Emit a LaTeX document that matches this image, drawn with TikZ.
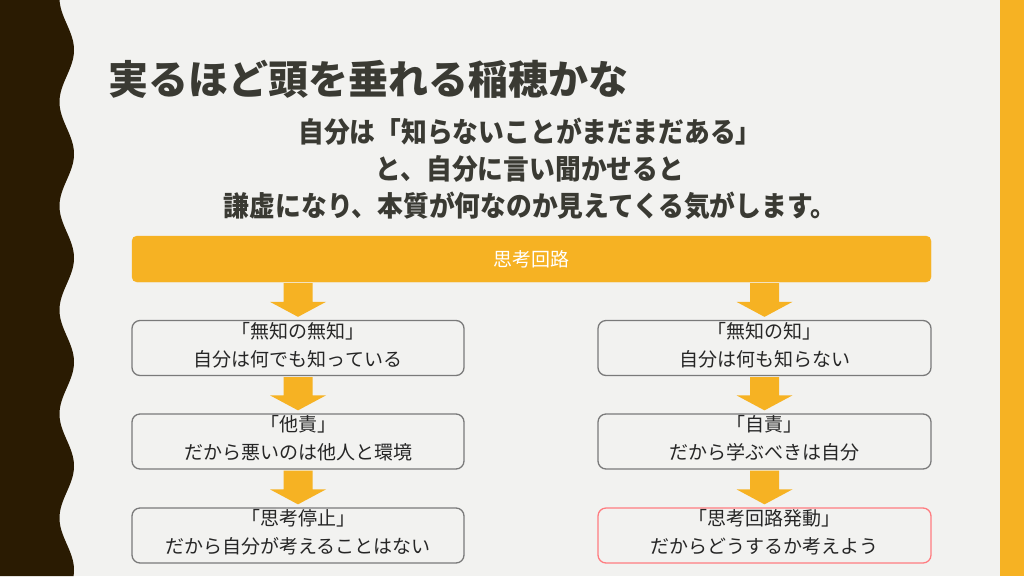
\documentclass[tikz,border=0pt]{standalone}
\usepackage{fontspec}
\setmainfont{Noto Sans CJK JP}
\newfontfamily\subfont{Noto Sans CJK JP}[FakeStretch=0.92]
\usetikzlibrary{calc}
\definecolor{bg}{HTML}{F2F2F0}
\definecolor{darkbrown}{HTML}{2A1B02}
\definecolor{orng}{HTML}{F6B223}
\definecolor{ink}{HTML}{3A3A33}
\definecolor{boxtext}{HTML}{262626}
\definecolor{boxline}{HTML}{7A7A7A}
\definecolor{redline}{HTML}{FF7C80}
\tikzset{
 stepbox/.style={draw=boxline, line width=1.3pt, rounded corners=8pt, minimum width=332pt, minimum height=55pt, inner sep=0pt},
 boxtxt/.style={align=center, text=boxtext, font=\fontsize{19}{28}\selectfont, inner sep=0pt, yshift=3pt},
 goodbox/.style={stepbox, draw=redline},
}
\newcommand\flowarrow[2]{%
 \fill[orng] let \p1=(#1.south -| #2.north), \p2=(#2.north) in
 (\x1-14.5pt,\y1-1pt) -- (\x1+14.5pt,\y1-1pt) -- (\x1+14.5pt,\y2+18pt) -- (\x1+28pt,\y2+18pt) -- (\x1,\y2+3pt) -- (\x1-28pt,\y2+18pt) -- (\x1-14.5pt,\y2+18pt) -- cycle;}
\begin{document}
\begin{tikzpicture}[x=1pt,y=-1pt]
\fill[bg] (0,0) rectangle (1024,576);
\useasboundingbox (0,0) rectangle (1024,576);
\fill[darkbrown] (0,0) -- plot[domain=0:576,samples=300,variable=\t] ({66.75+7.25*cos(((\t-50)/104)*360)},\t) -- (0,576) -- cycle;
\fill[orng] (1000,0) rectangle (1024,576);

\node[anchor=west, text=ink, font=\fontsize{40}{40}\selectfont\bfseries, inner sep=0pt] (title) at (108,79) {実るほど頭を垂れる稲穂かな};

\node[align=center, text=ink, font=\subfont\fontsize{28}{37}\selectfont\bfseries, inner sep=0pt] (sub) at (530,169) {自分は「知らないことがまだまだある」\\と、自分に言い聞かせると\\謙虚になり、本質が何なのか見えてくる気がします。};

\node[fill=orng, draw=orng, rounded corners=5pt, minimum width=799pt, minimum height=46pt, text=white, font=\fontsize{19}{19}\selectfont, inner sep=0pt] (bar) at (531.5,259) {思考回路};

\node[stepbox, label={[boxtxt]center:{「無知の無知」\\自分は何でも知っている}}] (L1) at (298,348) {};
\node[stepbox, label={[boxtxt]center:{「他責」\\だから悪いのは他人と環境}}] (L2) at (298,441.5) {};
\node[stepbox, label={[boxtxt]center:{「思考停止」\\だから自分が考えることはない}}] (L3) at (298,535.5) {};
\node[stepbox, minimum width=333pt, label={[boxtxt]center:{「無知の知」\\自分は何も知らない}}] (R1) at (764.5,348) {};
\node[stepbox, minimum width=333pt, label={[boxtxt]center:{「自責」\\だから学ぶべきは自分}}] (R2) at (764.5,441.5) {};
\node[goodbox, minimum width=333pt, label={[boxtxt]center:{「思考回路発動」\\だからどうするか考えよう}}] (R3) at (764.5,535.5) {};

\flowarrow{bar}{L1}
\flowarrow{L1}{L2}
\flowarrow{L2}{L3}
\flowarrow{bar}{R1}
\flowarrow{R1}{R2}
\flowarrow{R2}{R3}
\end{tikzpicture}
\end{document}
